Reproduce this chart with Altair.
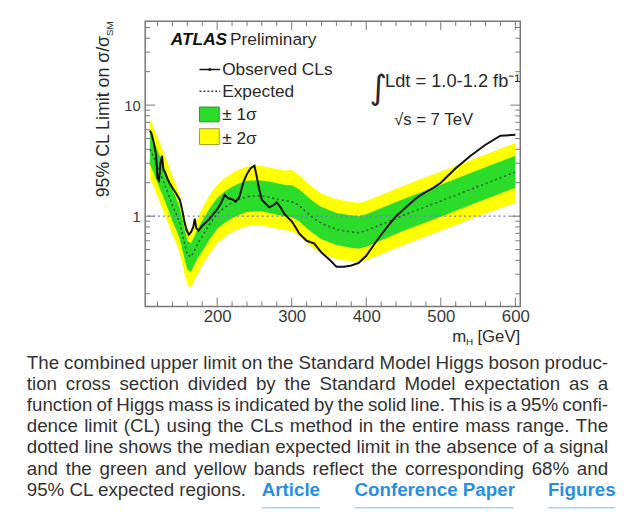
import altair as alt
import pandas as pd

# ---------------- data ----------------
mass_exp = [110, 115, 120, 125, 130, 135, 140, 145, 150, 155, 160, 165, 170, 175, 180, 190,
            200, 210, 220, 230, 240, 250, 260, 270, 280, 290, 300, 310, 320, 330, 340, 360,
            380, 390, 400, 450, 500, 550, 600]
exp_median = [4.0, 3.4, 2.8, 2.3, 1.9, 1.55, 1.25, 1.05, 0.85, 0.62, 0.45, 0.43, 0.5, 0.58, 0.66, 0.85,
              1.05, 1.2, 1.32, 1.42, 1.5, 1.52, 1.52, 1.48, 1.42, 1.38, 1.35, 1.25, 1.08, 0.95, 0.86, 0.76,
              0.72, 0.71, 0.74, 1.02, 1.37, 1.85, 2.5]
one_sigma_hi = [5.6, 4.75, 3.9, 3.2, 2.65, 2.15, 1.75, 1.45, 1.18, 0.84, 0.6, 0.57, 0.67, 0.79, 0.91, 1.18,
                1.46, 1.67, 1.84, 1.98, 2.08, 2.1, 2.1, 2.05, 1.98, 1.92, 1.9, 1.75, 1.52, 1.34, 1.21, 1.07,
                1.02, 1.0, 1.04, 1.43, 1.92, 2.6, 3.5]
one_sigma_lo = [2.9, 2.45, 2.0, 1.65, 1.37, 1.12, 0.9, 0.76, 0.62, 0.45, 0.33, 0.315, 0.37, 0.43, 0.48, 0.62,
                0.77, 0.87, 0.96, 1.03, 1.09, 1.1, 1.1, 1.07, 1.03, 1.0, 0.98, 0.9, 0.78, 0.69, 0.62, 0.55,
                0.52, 0.51, 0.53, 0.74, 0.99, 1.34, 1.8]
two_sigma_hi = [7.4, 6.3, 5.2, 4.25, 3.5, 2.85, 2.3, 1.9, 1.55, 1.1, 0.78, 0.72, 0.85, 1.0, 1.18, 1.55,
                1.92, 2.2, 2.45, 2.65, 2.8, 2.85, 2.82, 2.75, 2.65, 2.58, 2.6, 2.35, 2.02, 1.78, 1.6, 1.42,
                1.34, 1.32, 1.37, 1.88, 2.52, 3.4, 4.55]
two_sigma_lo = [2.15, 1.85, 1.5, 1.24, 1.02, 0.84, 0.68, 0.57, 0.46, 0.33, 0.24, 0.225, 0.27, 0.31, 0.36, 0.46,
                0.57, 0.65, 0.72, 0.77, 0.81, 0.82, 0.82, 0.8, 0.77, 0.75, 0.73, 0.67, 0.58, 0.51, 0.46, 0.41,
                0.39, 0.38, 0.4, 0.55, 0.74, 1.0, 1.32]

mass_obs = [110, 112, 115, 118, 120, 122, 124, 126, 128, 130, 133, 136, 140, 145, 150, 153, 156, 159,
            162, 165, 168, 170, 172, 175, 180, 185, 190, 195, 200, 205, 210, 215, 220, 225, 230, 235,
            240, 245, 250, 253, 256, 260, 265, 270, 275, 280, 285, 290, 295, 300, 305, 310, 320, 330,
            340, 350, 360, 370, 380, 390, 400, 410, 420, 430, 440, 450, 460, 470, 480, 490, 500, 520,
            540, 560, 580, 600]
observed = [5.9, 5.5, 4.6, 3.6, 2.2, 2.1, 3.0, 3.5, 2.6, 2.5, 2.2, 2.0, 1.8, 1.6, 1.4, 1.15, 0.9, 0.75,
            0.68, 0.72, 0.8, 0.95, 0.78, 0.74, 0.82, 0.88, 0.95, 1.05, 1.15, 1.3, 1.55, 1.45, 1.42, 1.35,
            1.5, 2.0, 2.4, 2.7, 2.85, 2.3, 1.8, 1.4, 1.3, 1.2, 1.25, 1.33, 1.2, 1.05, 0.97, 0.9, 0.8, 0.7,
            0.6, 0.57, 0.47, 0.41, 0.35, 0.35, 0.36, 0.38, 0.44, 0.55, 0.68, 0.83, 1.0, 1.15, 1.32, 1.5,
            1.65, 1.8, 2.0, 2.7, 3.5, 4.4, 5.3, 5.4]

x_label_values = [200, 300, 400, 500, 600]
x_minor_ticks = [120, 140, 160, 180, 220, 240, 260, 280, 320, 340, 360, 380, 420, 440, 460, 480,
                 520, 540, 560, 580]
y_label_values = [1, 10]
y_minor_ticks = [0.2, 0.3, 0.4, 0.5, 0.6, 0.7, 0.8, 0.9, 2, 3, 4, 5, 6, 7, 8, 9, 20, 30, 40, 50]

caption_lines = [
    "The combined upper limit on the Standard Model Higgs boson produc-",
    "tion cross section divided by the Standard Model expectation as a",
    "function of Higgs mass is indicated by the solid line. This is a 95% confi-",
    "dence limit (CL) using the CLs method in the entire mass range. The",
    "dotted line shows the median expected limit in the absence of a signal",
    "and the green and yellow bands reflect the corresponding 68% and",
]
caption_last = "95% CL expected regions."
link_labels = ["Article", "Conference Paper", "Figures"]

# ---------------- layout helpers ----------------
FONT = "Liberation Sans"
W, H = 380, 289

# Arial / Liberation Sans advance widths (1/1000 em), used only to justify the caption text
_w = {" ": 278, "%": 889, "(": 333, ")": 333, "-": 333, ".": 278, ",": 278}
for ch in "0123456789":
    _w[ch] = 556
_w.update(dict(zip("ABCDEFGHIJKLMNOPQRSTUVWXYZ",
                   [667, 667, 722, 722, 667, 611, 778, 722, 278, 500, 667, 556, 833, 722, 778, 667,
                    778, 722, 667, 611, 722, 667, 944, 667, 667, 611])))
_w.update(dict(zip("abcdefghijklmnopqrstuvwxyz",
                   [556, 556, 500, 556, 556, 278, 556, 556, 222, 222, 500, 222, 833, 556, 556, 556,
                    556, 333, 500, 278, 556, 500, 722, 500, 500, 500])))

def text_width(s, size):
    return sum(_w.get(c, 556) for c in s) / 1000.0 * size

CAP_SIZE = 19
CAP_X0, CAP_X1 = -120, 469          # left / right edge of the justified block (plot coords)
cap_baselines = [352, 373.5, 395, 416.5, 438, 459.5]
last_baseline = 481

rows = []
for line, yb in zip(caption_lines, cap_baselines):
    words = line.split(" ")
    total = sum(text_width(wd, CAP_SIZE) for wd in words)
    gap = (CAP_X1 - CAP_X0 - total) / (len(words) - 1)
    xpos = CAP_X0
    for wd in words:
        rows.append({"word": wd, "px": xpos, "py": yb})
        xpos += text_width(wd, CAP_SIZE) + gap
caption_df = pd.DataFrame(rows)

# ---------------- chart ----------------
xs = alt.Scale(domain=[103.5, 606.6], nice=False, zero=False)
ys = alt.Scale(type="log", domain=[0.154, 57], nice=False)

x_axis = alt.Axis(values=x_label_values, ticks=False, domain=False, grid=False, title=None,
                  labelFontSize=17, labelFont=FONT, labelColor="#3a3a3a", labelPadding=2,
                  format="d")
y_axis = alt.Axis(values=y_label_values, ticks=False, domain=False, grid=False, title=None,
                  labelFontSize=15, labelFont=FONT, labelColor="#3a3a3a", labelPadding=5,
                  format="d")

def X(f):
    return alt.X(f, scale=xs, axis=x_axis)

def Y(f):
    return alt.Y(f, scale=ys, axis=y_axis)

bands = pd.DataFrame({"m": mass_exp, "exp": exp_median, "g_hi": one_sigma_hi, "g_lo": one_sigma_lo,
                      "y_hi": two_sigma_hi, "y_lo": two_sigma_lo})
obs = pd.DataFrame({"m": mass_obs, "obs": observed})
one = pd.DataFrame({"a": [0]})

yellow = alt.Chart(bands).mark_area(color="#ffff00", opacity=1).encode(
    x=X("m:Q"), y=Y("y_lo:Q"), y2="y_hi:Q")
green = alt.Chart(bands).mark_area(color="#2bdc2b", opacity=1).encode(
    x=X("m:Q"), y=Y("g_lo:Q"), y2="g_hi:Q")
unity = alt.Chart(pd.DataFrame({"v": [1]})).mark_rule(
    color="#7a78c8", strokeDash=[2, 3], strokeWidth=1.3
).encode(y=Y("v:Q"))
expected = alt.Chart(bands).mark_line(color="#2d4a2d", strokeDash=[2, 3], strokeWidth=1.4).encode(
    x=X("m:Q"), y=Y("exp:Q"))
observed_line = alt.Chart(obs).mark_line(color="#111111", strokeWidth=2).encode(
    x=X("m:Q"), y=Y("obs:Q"))

# inward ticks (ROOT style) on all four sides
tick_col = "#777777"
def yticks(vals, length):
    d = pd.DataFrame({"t": vals})
    left = alt.Chart(d).mark_rule(color=tick_col, strokeWidth=1).encode(
        y=Y("t:Q"), x=alt.value(0), x2=alt.value(length))
    right = alt.Chart(d).mark_rule(color=tick_col, strokeWidth=1).encode(
        y=Y("t:Q"), x=alt.value(W), x2=alt.value(W - length))
    return [left, right]

def xticks(vals, length):
    d = pd.DataFrame({"t": vals})
    bottom = alt.Chart(d).mark_rule(color=tick_col, strokeWidth=1).encode(
        x=X("t:Q"), y=alt.value(H), y2=alt.value(H - length))
    top = alt.Chart(d).mark_rule(color=tick_col, strokeWidth=1).encode(
        x=X("t:Q"), y=alt.value(0), y2=alt.value(length))
    return [bottom, top]

ticks = yticks(y_label_values, 10) + yticks(y_minor_ticks, 5) + xticks(x_label_values, 9) + xticks(x_minor_ticks, 5)

def txt(s, x, y, size=17, **kw):
    opts = dict(font=FONT, align="left", baseline="alphabetic", color="#2a2a2a")
    opts.update(kw)
    return alt.Chart(one).mark_text(fontSize=size, **opts).encode(
        x=alt.value(x), y=alt.value(y), text=alt.value(s))

# legend
leg_obs_line = alt.Chart(one).mark_rule(color="#111111", strokeWidth=1.5).encode(
    x=alt.value(55), x2=alt.value(76), y=alt.value(49))
leg_obs_pt = alt.Chart(one).mark_point(filled=True, color="#111111", size=12, shape="circle").encode(
    x=alt.value(65.5), y=alt.value(49))
leg_exp_line = alt.Chart(one).mark_rule(color="#2d4a2d", strokeWidth=1.4, strokeDash=[2, 2]).encode(
    x=alt.value(55), x2=alt.value(76), y=alt.value(71))
leg_g = alt.Chart(one).mark_rect(fill="#2bdc2b", stroke="#3c8c3c", strokeWidth=1).encode(
    x=alt.value(55), x2=alt.value(75), y=alt.value(87), y2=alt.value(102))
leg_y = alt.Chart(one).mark_rect(fill="#ffff00", stroke="#a0a030", strokeWidth=1).encode(
    x=alt.value(55), x2=alt.value(75), y=alt.value(109), y2=alt.value(125))

texts = [
    txt("ATLAS", 26, 24, 17.5, fontWeight="bold", fontStyle="italic", color="#111111"),
    txt("Preliminary", 86, 24, 17.5),
    txt("Observed CLs", 78, 55, 17.5),
    txt("Expected", 78, 77, 17.5),
    txt("± 1σ", 78, 100, 17.5),
    txt("± 2σ", 78, 124, 17.5),
    txt("∫", 236, 69, 34, align="center", baseline="middle", font="DejaVu Sans"),
    txt("Ldt = 1.0-1.2 fb⁻¹", 243, 67, 18.5),
    txt("√s = 7 TeV", 252, 105, 17),
    # y-axis title
    txt("95% CL Limit on σ/σ", -37, 15, 18, angle=270, align="right"),
    txt("SM", -33, 15, 10, angle=270, align="left"),
    # x-axis title (below the tick labels)
    txt("m", 311, 325, 17),
    txt("H", 325, 328, 10),
    txt("[GeV]", 380, 325, 17, align="right"),
]

caption = alt.Chart(caption_df).mark_text(
    font=FONT, fontSize=CAP_SIZE, align="left", baseline="alphabetic", color="#333333"
).encode(
    x=alt.X("px:Q", scale=None, axis=None),
    y=alt.Y("py:Q", scale=None, axis=None),
    text="word:N",
)
last_line = txt(caption_last, CAP_X0, last_baseline, CAP_SIZE, color="#333333")
link_x = [118, 212, 408]
links = [txt(lab, lx, last_baseline, CAP_SIZE, color="#2a8ee0", fontWeight="bold")
         for lab, lx in zip(link_labels, link_x)]
underline_spans = [(118, 177), (212, 373), (408, 476)]
underlines = [alt.Chart(one).mark_rule(color="#a8d4f2", strokeWidth=1.5).encode(
    x=alt.value(a), x2=alt.value(b), y=alt.value(493)) for a, b in underline_spans]

chart = alt.layer(
    yellow, green, unity, expected, observed_line, *ticks,
    leg_obs_line, leg_obs_pt, leg_exp_line, leg_g, leg_y,
    *texts, caption, last_line, *links, *underlines,
).properties(
    width=W, height=H,
    autosize=alt.AutoSizeParams(type="none"),
    padding={"left": 139, "top": 10, "right": 98, "bottom": 207},
    background="white",
).configure_view(stroke="#777777", strokeWidth=1.5)

chart.save("out.html", embed_options={"renderer": "svg", "actions": False})
